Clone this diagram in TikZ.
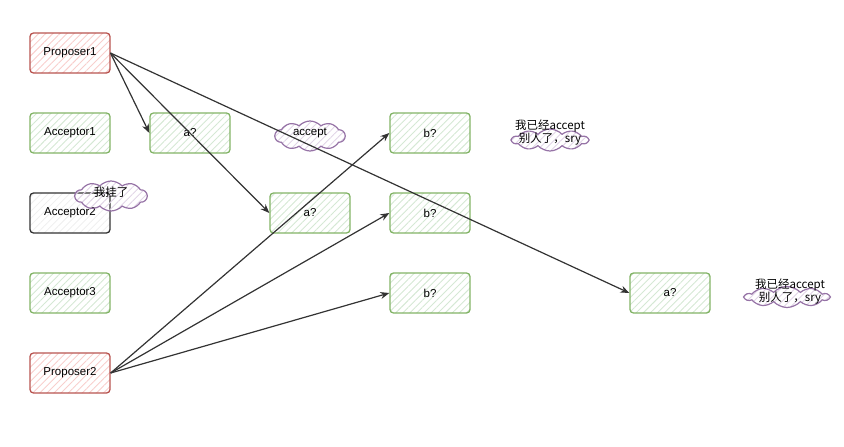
\documentclass[tikz,border=0pt]{standalone}
\usepackage{fontspec}
\setmainfont{Liberation Sans}
\newfontfamily\cjk{Noto Sans CJK SC}
\usetikzlibrary{shapes.symbols,patterns.meta,arrows.meta}
\definecolor{redline}{HTML}{B85450}
\definecolor{redfill}{HTML}{F8CECC}
\definecolor{greenline}{HTML}{82B366}
\definecolor{greenfill}{HTML}{D5E8D4}
\definecolor{purpline}{HTML}{9673A6}
\definecolor{purpfill}{HTML}{E1D5E7}
\definecolor{arrowc}{HTML}{333333}
\tikzset{
  box/.style={rectangle, rounded corners=3.5pt, minimum width=80pt, minimum height=40pt,
    line width=1.3pt, font=\fontsize{11.5}{13}\selectfont, inner sep=0pt},
  redbox/.style={box, draw=redline, pattern={Lines[angle=45,distance=5pt,line width=0.9pt]}, pattern color=redfill},
  greenbox/.style={box, draw=greenline, pattern={Lines[angle=45,distance=5pt,line width=0.9pt]}, pattern color=greenfill},
  blackbox/.style={box, draw=black!80, pattern={Lines[angle=45,distance=5pt,line width=0.9pt]}, pattern color=black!6},
  cloudshape/.style={cloud, cloud puffs=10, cloud puff arc=95, draw=purpline, line width=1.2pt,
    pattern={Lines[angle=45,distance=5pt,line width=0.9pt]}, pattern color=purpfill, inner sep=0pt},
  txt/.style={font=\fontsize{11.5}{13}\selectfont, inner sep=0pt, align=center},
  arr/.style={draw=arrowc, line width=1.2pt, -{Stealth[length=9pt,width=7pt]}}
}
\begin{document}
\begin{tikzpicture}[x=1pt,y=-1pt]
\useasboundingbox (0,0) rectangle (844,447);
\node[redbox] (p1) at (70,53) {Proposer1};
\node[greenbox] (acc1) at (70,133) {Acceptor1};
\node[blackbox] (acc2) at (70,213) {Acceptor2};
\node[greenbox] (acc3) at (70,293) {Acceptor3};
\node[redbox] (p2) at (70,373) {Proposer2};
\node[greenbox] (a1) at (190,133) {a?};
\node[greenbox] (a2) at (310,213) {a?};
\node[greenbox] (b1) at (430,133) {b?};
\node[greenbox] (b2) at (430,213) {b?};
\node[greenbox] (b3) at (430,293) {b?};
\node[greenbox] (a3) at (670,293) {a?};
% clouds
\node[cloudshape, minimum width=72pt, minimum height=30pt] (c1) at (111,196) {};
\node[txt] (t1) at (111,192) {\cjk 我挂了};
\node[cloudshape, minimum width=70pt, minimum height=30pt] (c2) at (310,136) {};
\node[txt] (t2) at (310,133) {accept};
\node[cloudshape, minimum width=76pt, minimum height=22pt] (c3) at (550,140) {};
\node[txt] (t3) at (550,133) {\cjk 我已经accept\\\cjk 别人了，sry};
\node[cloudshape, minimum width=84pt, minimum height=21pt] (c4) at (787,297) {};
\node[txt] (t4) at (790,292) {\cjk 我已经accept\\\cjk 别人了，sry};
% arrows
\draw[arr] (p1.east) -- (a1.west);
\draw[arr] (p1.east) -- (a2.west);
\draw[arr] (p1.east) -- (a3.west);
\draw[arr] (p2.east) -- (b1.west);
\draw[arr] (p2.east) -- (b2.west);
\draw[arr] (p2.east) -- (b3.west);
\end{tikzpicture}
\end{document}
